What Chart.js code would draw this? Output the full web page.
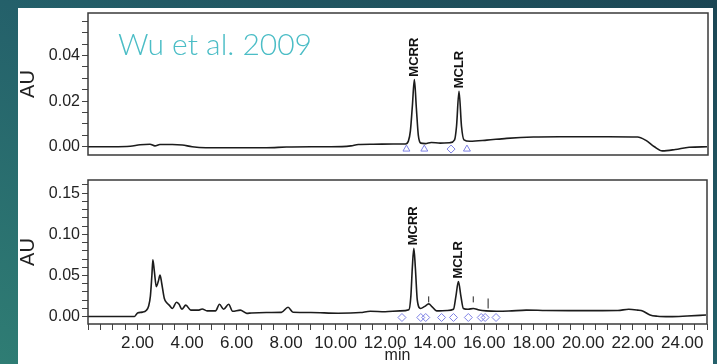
<!DOCTYPE html>
<html><head><meta charset="utf-8">
<script src="https://cdn.jsdelivr.net/npm/chart.js@4.4.0/dist/chart.umd.min.js"></script>
<style>
html,body{margin:0;padding:0;width:717px;height:364px;overflow:hidden;}
body{background:linear-gradient(to top right,#2f7d74 0%,#24606a 50%,#1b4654 100%);position:relative;}
#panel{position:absolute;left:18px;top:8px;width:695px;height:360px;background:#fff;}
#c1{position:absolute;left:18px;top:8px;width:695px;height:152px;}
#c2{position:absolute;left:18px;top:170px;width:695px;height:194px;}
#wu{position:absolute;left:118px;top:28px;font:300 30px Lato, sans-serif;line-height:30px;color:#4bbdc6;white-space:nowrap;}
</style></head><body>
<div id="panel"></div>
<canvas id="c1" width="695" height="152"></canvas>
<canvas id="c2" width="695" height="194"></canvas>
<div id="wu">Wu et al. 2009</div>
<script>
// ---- Top chromatogram (standard) ----
const topTime = [0.0,1.0,1.7,2.1,2.5,2.7,2.9,3.4,3.8,4.2,4.75,6.0,7.2,8.0,9.0,9.8,10.6,10.9,11.5,12.3,12.8,12.92,13.0,13.08,13.16,13.24,13.32,13.42,13.6,13.84,14.2,14.6,14.78,14.86,14.96,15.06,15.16,15.4,16.08,16.88,17.96,19.0,20.0,21.0,22.16,22.48,22.84,23.16,23.68,24.24,24.96];
const topAU   = [0.0000,0.0000,0.0002,0.0009,0.0011,0.0004,0.0010,0.0010,0.0008,0.0000,-0.0004,-0.0004,-0.0004,-0.0001,0.0000,0.0000,0.0004,0.0010,0.0011,0.0012,0.0012,0.0025,0.0070,0.0180,0.0294,0.0170,0.0050,0.0016,0.0014,0.0019,0.0016,0.0018,0.0030,0.0090,0.0243,0.0090,0.0030,0.0024,0.0029,0.0037,0.0043,0.0044,0.0044,0.0044,0.0043,0.0029,0.0000,-0.0018,-0.0012,-0.0002,0.0000];
const topTriTime = [12.84, 13.56, 15.28];
const topTriAU   = [-0.001, -0.001, -0.001];
const topDiaTime = [14.64];
const topDiaAU   = [-0.001];
const topPeakNames = ['MCRR','MCLR'];
const topPeakTime  = [13.16, 14.96];
const topPeakAU    = [0.0294, 0.0243];
const topYTicks = [0.00, 0.02, 0.04];

// ---- Bottom chromatogram (sample) ----
const botTime = [0.0,1.88,2.0,2.2,2.35,2.45,2.52,2.58,2.62,2.68,2.76,2.84,2.91,2.98,3.08,3.18,3.28,3.41,3.57,3.68,3.79,3.95,4.15,4.48,4.61,4.81,5.15,5.31,5.48,5.68,5.84,6.15,6.41,6.6,7.2,7.81,8.08,8.28,9.0,10.1,11.0,11.4,12.0,12.6,12.96,13.04,13.1,13.16,13.22,13.3,13.43,13.6,13.76,13.9,14.08,14.5,14.76,14.86,14.96,15.06,15.16,15.35,15.56,15.8,16.08,16.5,17.0,17.7,18.5,19.5,20.5,21.4,21.84,22.2,22.4,22.7,23.0,23.5,24.2,24.96];
const botAU   = [0.0003,0.0003,0.0045,0.0055,0.0075,0.0130,0.0250,0.0500,0.0690,0.0550,0.0365,0.0430,0.0505,0.0400,0.0224,0.0170,0.0140,0.0100,0.0175,0.0150,0.0090,0.0140,0.0080,0.0080,0.0094,0.0070,0.0070,0.0150,0.0090,0.0150,0.0066,0.0080,0.0040,0.0045,0.0050,0.0052,0.0114,0.0053,0.0050,0.0042,0.0050,0.0065,0.0060,0.0070,0.0085,0.0250,0.0600,0.0830,0.0600,0.0200,0.0100,0.0125,0.0155,0.0120,0.0070,0.0075,0.0090,0.0250,0.0426,0.0250,0.0100,0.0090,0.0100,0.0080,0.0070,0.0065,0.0068,0.0080,0.0075,0.0073,0.0073,0.0075,0.0090,0.0080,0.0070,0.0020,0.0005,0.0000,0.0008,0.0020];
const botDiaTime = [12.68, 13.44, 13.64, 14.28, 14.76, 15.36, 15.88, 16.04, 16.48];
const botDiaAU   = [-0.001,-0.001,-0.001,-0.001,-0.001,-0.001,-0.001,-0.001,-0.001];
const botApexTime = [13.76, 15.56, 16.16];
const botApexAU   = [0.021, 0.021, 0.016];
const botPeakNames = ['MCRR','MCLR'];
const botPeakTime  = [13.16, 14.96];
const botPeakAU    = [0.0830, 0.0426];
const botYTicks = [0.00, 0.05, 0.10, 0.15];
const xTickLabels = [2,4,6,8,10,12,14,16,18,20,22,24];

const pts = (xs, ys) => xs.map((x,i)=>({x:x, y:ys[i]}));
const near = (v, arr) => arr.find(a => Math.abs(a - v) < 1e-7);

const boxPlugin = {
  id:'box',
  afterDraw(chart){
    const {ctx, chartArea:a} = chart;
    ctx.save(); ctx.strokeStyle='#3a3a3a'; ctx.lineWidth=1.5;
    ctx.strokeRect(a.left, a.top, a.right-a.left, a.bottom-a.top);
    ctx.restore();
  }
};
const peakLabelPlugin = {
  id:'peakLabels',
  afterDatasetsDraw(chart, args, o){
    if(!o || !o.names) return;
    const {ctx, scales:{x,y}} = chart;
    ctx.save(); ctx.font = 'bold 13px "Liberation Sans", Arial, sans-serif';
    ctx.fillStyle='#111'; ctx.textAlign='left'; ctx.textBaseline='middle';
    o.names.forEach((n,i)=>{
      const px = x.getPixelForValue(o.times[i]);
      const py = y.getPixelForValue(o.heights[i]) - 3;
      ctx.save(); ctx.translate(px, py); ctx.rotate(-Math.PI/2); ctx.fillText(n, 0, 0); ctx.restore();
    });
    ctx.restore();
  }
};

const font = '"Liberation Sans", Arial, sans-serif';
const markerColor = '#7d80e4';

function noPad(s){ s.paddingTop = 0; s.paddingBottom = 0; s.paddingLeft = 0; s.paddingRight = 0; }

function yScale(min, max, step, labels, width){
  return {
    type:'linear', min:min, max:max,
    ticks:{stepSize:step, includeBounds:false, autoSkip:false, padding:2, color:'#222',
      font:{family:font, size:16},
      callback:(v)=>{ const m = near(v, labels); return m===undefined ? '' : m.toFixed(2); }},
    grid:{drawOnChartArea:false, tickLength:6, color:'#444', lineWidth:1},
    border:{display:false},
    title:{display:true, text:'AU', color:'#222', font:{family:font, size:20, lineHeight:1}, padding:{top:0,bottom:0}},
    afterFit:(s)=>{ s.width = width; noPad(s); }
  };
}

const common = {
  responsive:false, animation:false,
  plugins:{legend:{display:false}, tooltip:{enabled:false}}
};

new Chart(document.getElementById('c1'), {
  type:'line',
  data:{datasets:[
    {data:pts(topTime, topAU), borderColor:'#1c1c1c', borderWidth:1.6, pointRadius:0, cubicInterpolationMode:'monotone', fill:false},
    {type:'scatter', data:pts(topTriTime, topTriAU), pointStyle:'triangle', pointRadius:4, borderColor:markerColor, borderWidth:1, backgroundColor:'rgba(0,0,0,0)', showLine:false},
    {type:'scatter', data:pts(topDiaTime, topDiaAU), pointStyle:'rectRot', pointRadius:4, borderColor:markerColor, borderWidth:1, backgroundColor:'rgba(0,0,0,0)', showLine:false}
  ]},
  options:Object.assign({}, common, {
    layout:{padding:{top:2, right:1, bottom:5, left:0}},
    plugins:{legend:{display:false}, tooltip:{enabled:false}, peakLabels:{names:topPeakNames, times:topPeakTime, heights:topPeakAU}},
    scales:{
      x:{type:'linear', min:0, max:25, display:false},
      y:yScale(-0.0036, 0.0586, 0.005, topYTicks, 70)
    }
  }),
  plugins:[boxPlugin, peakLabelPlugin]
});

new Chart(document.getElementById('c2'), {
  type:'line',
  data:{datasets:[
    {data:pts(botTime, botAU), borderColor:'#1c1c1c', borderWidth:1.6, pointRadius:0, cubicInterpolationMode:'monotone', fill:false},
    {type:'scatter', data:pts(botDiaTime, botDiaAU), pointStyle:'rectRot', pointRadius:4, borderColor:markerColor, borderWidth:1, backgroundColor:'rgba(0,0,0,0)', showLine:false},
    {type:'scatter', data:pts(botApexTime, botApexAU), pointStyle:'line', rotation:90, pointRadius:[3,3,5], borderColor:'#222', borderWidth:1, showLine:false}
  ]},
  options:Object.assign({}, common, {
    layout:{padding:{top:10, right:1, bottom:0, left:0}},
    plugins:{legend:{display:false}, tooltip:{enabled:false}, peakLabels:{names:botPeakNames, times:botPeakTime, heights:botPeakAU}},
    scales:{
      x:{type:'linear', min:0, max:25,
        ticks:{stepSize:0.5, autoSkip:false, maxRotation:0, minRotation:0, includeBounds:false, padding:3, color:'#222',
          font:{family:font, size:17},
          callback:(v)=>{ const m = near(v, xTickLabels); return m===undefined ? '' : m.toFixed(2); }},
        grid:{drawOnChartArea:false, tickLength:6, color:'#444', lineWidth:1},
        border:{display:false},
        title:{display:true, text:'min', color:'#222', font:{family:font, size:16, lineHeight:1.1}, padding:{top:0,bottom:0}},
        afterFit:(s)=>{ s.height = 40; noPad(s); }
      },
      y:yScale(-0.0089, 0.166, 0.01, botYTicks, 70)
    }
  }),
  plugins:[boxPlugin, peakLabelPlugin]
});
</script>
</body></html>
